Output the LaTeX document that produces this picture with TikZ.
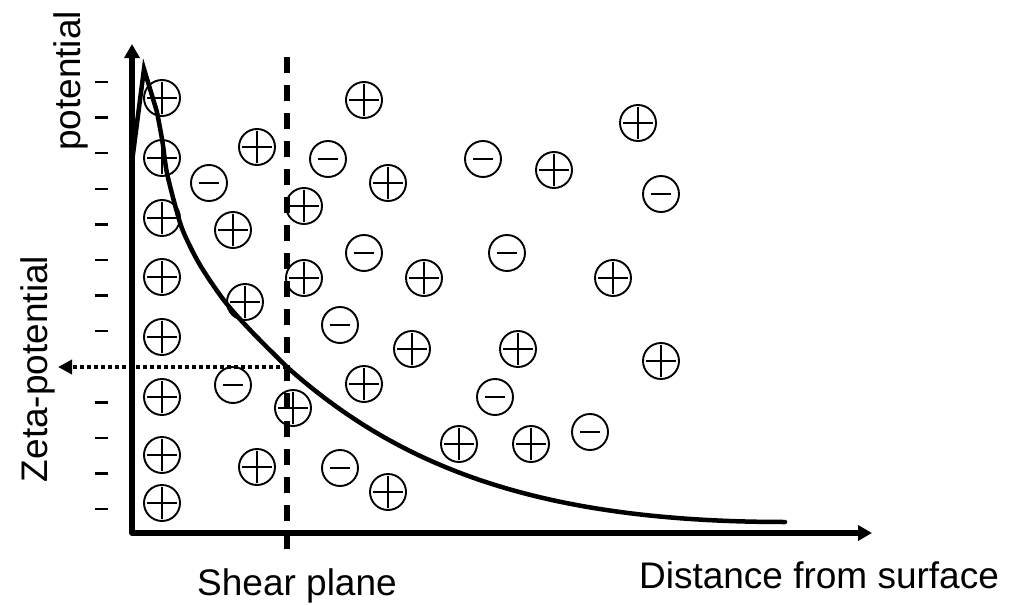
\documentclass[tikz,border=0pt]{standalone}
\usepackage{fontspec}
\setmainfont{Liberation Sans}
\usetikzlibrary{arrows.meta}
\tikzset{
  ionbase/.style={circle,draw,line width=1.9pt,minimum size=36pt,inner sep=0pt},
  pos ion/.style={ionbase,path picture={
     \draw[line width=1.9pt] ([xshift=-15pt]path picture bounding box.center) -- ([xshift=15pt]path picture bounding box.center);
     \draw[line width=1.9pt] ([yshift=-16pt]path picture bounding box.center) -- ([yshift=16pt]path picture bounding box.center);}},
  neg ion/.style={ionbase,path picture={
     \draw[line width=1.9pt] ([xshift=-10pt]path picture bounding box.center) -- ([xshift=10pt]path picture bounding box.center);}},
  axis/.style={line width=5.5pt,line join=round,{Triangle[length=14pt,width=15pt]}-{Triangle[length=14pt,width=15pt]}},
  tickmark/.style={line width=2.5pt},
  shear/.style={line width=5.5pt,dash pattern=on 16pt off 12pt},
  zetaarrow/.style={line width=4.5pt,dash pattern=on 4pt off 3pt,-{Triangle[length=14pt,width=14pt]}},
  curve/.style={line width=4.5pt,line join=miter},
  lbl/.style={font=\fontsize{37}{44}\selectfont,inner sep=0pt}
}
\begin{document}
\begin{tikzpicture}[x=1pt,y=-1pt]
\useasboundingbox (0,0) rectangle (1021,605);
% axes
\coordinate (O) at (132,533);
\coordinate (Ytip) at (132,44);
\coordinate (Xtip) at (872,533);
\draw[axis] (Ytip) -- (O) -- (Xtip);
% ticks
\foreach \k in {0,...,7,9,10,11,12}
  \draw[tickmark] (95,82+35.6*\k) -- (108,82+35.6*\k);
% shear plane
\coordinate (shtop) at (287,57);
\coordinate (shbot) at (287,556);
\draw[shear] (shtop) -- (shbot);
% ions
\foreach \x/\y [count=\i] in {162/98,364/100,638/123,257/147,162/158,554/170,388/183,304/206,162/218,233/230,162/277,304/278,424/278,613/278,245/302,162/337,412/349,518/349,661/361,364/384,162/397,293/408,459/444,531/444,162/455,257/467,388/492,162/503}
  \node[pos ion] (p\i) at (\x,\y) {};
\foreach \x/\y [count=\i] in {328/159,483/159,209/183,661/194,364/253,507/253,340/325,233/385,495/397,590/432,340/468}
  \node[neg ion] (n\i) at (\x,\y) {};
% potential curve
\draw[curve] (132.5,158) -- (144,69) -- (157,112);
\draw[curve,line cap=round] plot[smooth,tension=0.5] coordinates {(157,112) (162.5,142) (166.7,171.7) (175,205) (183.3,231.7) (200,265) (225,301.7) (251.7,331.7) (287,367)}
   .. controls (397,465) and (535,522) .. (785,522);
% zeta arrow
\coordinate (zeta) at (287,367);
\coordinate (zetaend) at (58,367);
\draw[zetaarrow] (zeta) -- (zetaend);
% labels
\node[lbl,rotate=90,anchor=base] (lpot) at (80,81) {potential};
\node[lbl,rotate=90,anchor=base] (lzeta) at (47,369) {Zeta-potential};
\node[lbl,anchor=base] (lshear) at (297,595) {Shear plane};
\node[lbl,anchor=base] (ldist) at (819,588) {Distance from surface};
\end{tikzpicture}
\end{document}
